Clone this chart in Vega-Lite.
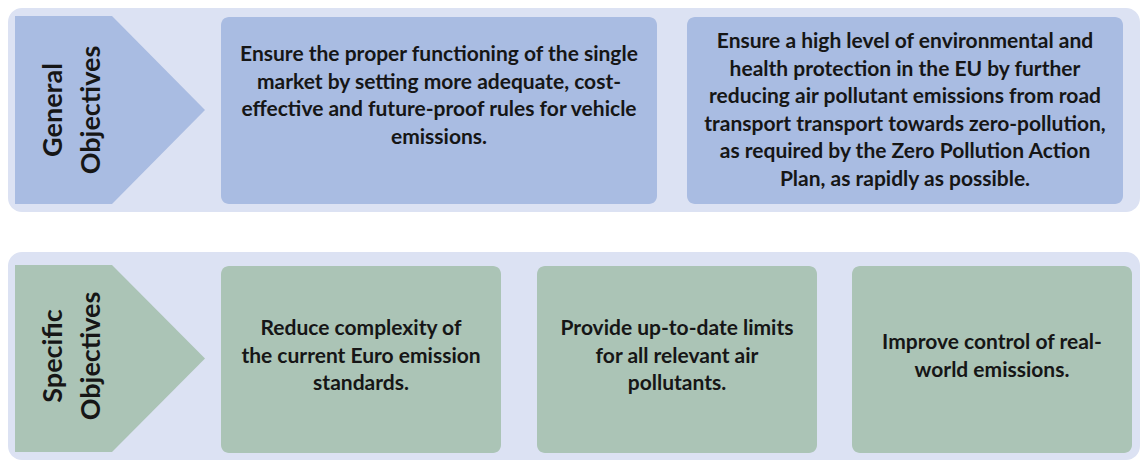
{
  "$schema": "https://vega.github.io/schema/vega-lite/v6.json",
  "width": 1142,
  "height": 461,
  "autosize": {"type": "fit", "contains": "padding"},
  "padding": 0,
  "background": "white",
  "config": {"view": {"stroke": null}},
  "datasets": {
    "bands": [
      {"kind": "band", "x": 8, "x2": 1140, "y": 8, "y2": 212},
      {"kind": "band", "x": 8, "x2": 1140, "y": 252, "y2": 460}
    ],
    "arrows": [
      {"group": "general", "kind": "general", "x": 15, "y": 16, "y2": 204},
      {"group": "general", "kind": "general", "x": 112, "y": 16, "y2": 204},
      {"group": "general", "kind": "general", "x": 205, "y": 110, "y2": 110},
      {"group": "specific", "kind": "specific", "x": 15, "y": 265, "y2": 452},
      {"group": "specific", "kind": "specific", "x": 112, "y": 265, "y2": 452},
      {"group": "specific", "kind": "specific", "x": 205, "y": 358.5, "y2": 358.5}
    ],
    "boxes": [
      {"kind": "general", "x": 221, "x2": 657, "y": 17, "y2": 204, "cx": 439, "cy": 55, "label": "Ensure the proper functioning of the single\nmarket by setting more adequate, cost-\neffective and future-proof rules for vehicle\nemissions."},
      {"kind": "general", "x": 687, "x2": 1123, "y": 17, "y2": 204, "cx": 905, "cy": 42, "label": "Ensure a high level of environmental and\nhealth protection in the EU by further\nreducing air pollutant emissions from road\ntransport transport towards zero-pollution,\nas required by the Zero Pollution Action\nPlan, as rapidly as possible."},
      {"kind": "specific", "x": 221, "x2": 501, "y": 266, "y2": 453, "cx": 361, "cy": 329, "label": "Reduce complexity of\nthe current Euro emission\nstandards."},
      {"kind": "specific", "x": 537, "x2": 817, "y": 266, "y2": 453, "cx": 677, "cy": 329, "label": "Provide up-to-date limits\nfor all relevant air\npollutants."},
      {"kind": "specific", "x": 852, "x2": 1132, "y": 266, "y2": 453, "cx": 992, "cy": 343, "label": "Improve control of real-\nworld emissions."}
    ],
    "titles": [
      {"cx": 54, "cy": 110, "label": "General\nObjectives"},
      {"cx": 54, "cy": 356, "label": "Specific\nObjectives"}
    ]
  },
  "layer": [
    {
      "data": {"name": "bands"},
      "mark": {"type": "rect", "cornerRadius": 14},
      "encoding": {
        "x": {"field": "x", "type": "quantitative", "scale": {"domain": [0, 1142], "nice": false, "zero": false}, "axis": null},
        "x2": {"field": "x2"},
        "y": {"field": "y", "type": "quantitative", "scale": {"domain": [0, 461], "nice": false, "zero": false, "reverse": true}, "axis": null},
        "y2": {"field": "y2"},
        "color": {"field": "kind", "type": "nominal", "scale": {"domain": ["band", "general", "specific"], "range": ["#DCE2F3", "#A9BCE2", "#ABC4B6"]}, "legend": null}
      }
    },
    {
      "data": {"name": "arrows"},
      "mark": {"type": "area", "interpolate": "linear", "opacity": 1},
      "encoding": {
        "x": {"field": "x", "type": "quantitative"},
        "y": {"field": "y", "type": "quantitative"},
        "y2": {"field": "y2"},
        "detail": {"field": "group"},
        "color": {"field": "kind", "type": "nominal", "legend": null}
      }
    },
    {
      "data": {"name": "boxes"},
      "mark": {"type": "rect", "cornerRadius": 8},
      "encoding": {
        "x": {"field": "x", "type": "quantitative"},
        "x2": {"field": "x2"},
        "y": {"field": "y", "type": "quantitative"},
        "y2": {"field": "y2"},
        "color": {"field": "kind", "type": "nominal", "legend": null}
      }
    },
    {
      "data": {"name": "boxes"},
      "mark": {"type": "text", "lineBreak": "\n", "align": "center", "baseline": "middle", "font": "Lato", "fontWeight": "bold", "fontSize": 21, "lineHeight": 27.5, "color": "#161616"},
      "encoding": {
        "x": {"field": "cx", "type": "quantitative"},
        "y": {"field": "cy", "type": "quantitative"},
        "text": {"field": "label"}
      }
    },
    {
      "data": {"name": "titles"},
      "mark": {"type": "text", "lineBreak": "\n", "align": "center", "baseline": "middle", "angle": 270, "font": "Lato", "fontWeight": "bold", "fontSize": 27, "lineHeight": 38, "color": "#161616"},
      "encoding": {
        "x": {"field": "cx", "type": "quantitative"},
        "y": {"field": "cy", "type": "quantitative"},
        "text": {"field": "label"}
      }
    }
  ]
}
